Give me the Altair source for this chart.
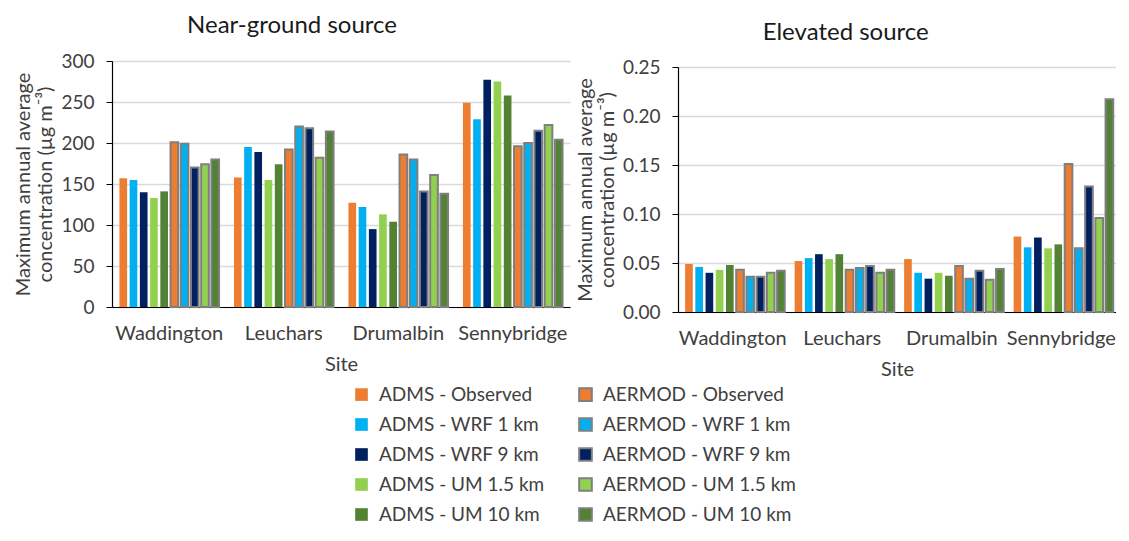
import altair as alt
import pandas as pd

sites = ["Waddington", "Leuchars", "Drumalbin", "Sennybridge"]
met = ["Observed", "WRF 1 km", "WRF 9 km", "UM 1.5 km", "UM 10 km"]
models = ["ADMS", "AERMOD"]
met_colors = ["#ED7D31", "#00B0F0", "#002060", "#92D050", "#548235"]

# Near-ground source (µg m-3), one list per met input, values per site
ng_adms_obs = [157, 158, 127, 249]
ng_adms_wrf1 = [155, 195, 122, 229]
ng_adms_wrf9 = [140, 189, 95, 277]
ng_adms_um15 = [133, 155, 113, 275]
ng_adms_um10 = [141, 174, 104, 258]
ng_aermod_obs = [201, 192, 186, 196]
ng_aermod_wrf1 = [199, 220, 180, 200]
ng_aermod_wrf9 = [170, 218, 141, 215]
ng_aermod_um15 = [174, 182, 161, 222]
ng_aermod_um10 = [180, 214, 138, 204]

# Elevated source (µg m-3)
el_adms_obs = [0.049, 0.052, 0.054, 0.077]
el_adms_wrf1 = [0.046, 0.055, 0.040, 0.066]
el_adms_wrf9 = [0.040, 0.059, 0.034, 0.076]
el_adms_um15 = [0.043, 0.054, 0.040, 0.065]
el_adms_um10 = [0.048, 0.059, 0.037, 0.069]
el_aermod_obs = [0.043, 0.043, 0.047, 0.151]
el_aermod_wrf1 = [0.036, 0.045, 0.034, 0.065]
el_aermod_wrf9 = [0.036, 0.047, 0.042, 0.128]
el_aermod_um15 = [0.040, 0.040, 0.033, 0.096]
el_aermod_um10 = [0.042, 0.043, 0.044, 0.217]

ng = {"ADMS": [ng_adms_obs, ng_adms_wrf1, ng_adms_wrf9, ng_adms_um15, ng_adms_um10],
      "AERMOD": [ng_aermod_obs, ng_aermod_wrf1, ng_aermod_wrf9, ng_aermod_um15, ng_aermod_um10]}
el = {"ADMS": [el_adms_obs, el_adms_wrf1, el_adms_wrf9, el_adms_um15, el_adms_um10],
      "AERMOD": [el_aermod_obs, el_aermod_wrf1, el_aermod_wrf9, el_aermod_um15, el_aermod_um10]}


def build(d):
    rows = []
    for mi, m in enumerate(models):
        for ki, k in enumerate(met):
            for si, s in enumerate(sites):
                rows.append({"site": s, "series": f"{m} - {k}", "idx": mi * 5 + ki,
                             "value": d[m][ki][si]})
    return pd.DataFrame(rows)


legend_order = [f"{m} - {k}" for m in models for k in met]
fill_range = [c for m in models for c in met_colors]
stroke_range = ["transparent" if m == "ADMS" else "#7F7F7F" for m in models for k in met]

FONT = "Lato"
TXT = "#404040"
ytitle = ["Maximum annual average", "concentration (µg m⁻³)"]

legend = alt.Legend(
    title=None, orient="none", legendX=240, legendY=324, columns=2, padding=0,
    symbolType="square", symbolSize=160, symbolStrokeWidth=2,
    labelFont=FONT, labelFontSize=19, labelColor=TXT, labelLimit=400,
    labelOffset=8, rowPadding=9, columnPadding=30,
)


def panel(df, ymax, yvals, fmt, w, h, top, show_legend, title_text, title_offset):
    lg = legend if show_legend else None
    enc = dict(
        x=alt.X("site:N", sort=sites,
                scale=alt.Scale(paddingInner=0.13, paddingOuter=0.065),
                axis=alt.Axis(title="Site", labelAngle=0, ticks=False, tickSize=0,
                              labelFontSize=20,
                              domainColor="#000000", domainWidth=1.2,
                              labelPadding=16, titlePadding=11)),
        xOffset=alt.XOffset("idx:O", scale=alt.Scale(paddingInner=0.25, paddingOuter=0)),
        y=alt.Y("value:Q", scale=alt.Scale(domain=[0, ymax], nice=False, zero=True,
                                           range=[h, top]),
                axis=alt.Axis(values=yvals, format=fmt, title=ytitle, labelFontSize=19,
                              domainColor="#000000", domainWidth=1.2,
                              tickColor="#000000", tickSize=6, labelPadding=12,
                              titlePadding=5, titleLineHeight=22,
                              gridColor="#D9D9D9", gridWidth=1.5)),
        fill=alt.Fill("series:N", scale=alt.Scale(domain=legend_order, range=fill_range),
                      legend=lg),
        stroke=alt.Stroke("series:N", scale=alt.Scale(domain=legend_order, range=stroke_range),
                          legend=lg),
    )
    return alt.Chart(df).mark_bar(strokeWidth=2).encode(**enc).properties(
        width=w, height=h,
        title=alt.Title(title_text, fontSize=24, font=FONT, color="#1A1A1A",
                        fontWeight="normal", frame="bounds", anchor="middle",
                        offset=title_offset),
    )


left = panel(build(ng), 300, [0, 50, 100, 150, 200, 250, 300], "d",
             458, 246, 0, True, "Near-ground source", 14)
right = panel(build(el), 0.25, [0, 0.05, 0.1, 0.15, 0.2, 0.25], ".2f",
              438, 251, 6, False, "Elevated source", 13)

chart = alt.hconcat(left, right, spacing=5).configure_axis(
    labelFont=FONT, titleFont=FONT, titleFontSize=20,
    labelColor=TXT, titleColor=TXT, titleFontWeight="normal",
).configure_view(stroke=None).properties(
    padding={"top": 6, "left": 5, "right": 0, "bottom": 0}
)

chart.save("out.html", embed_options={"renderer": "svg", "actions": False})
